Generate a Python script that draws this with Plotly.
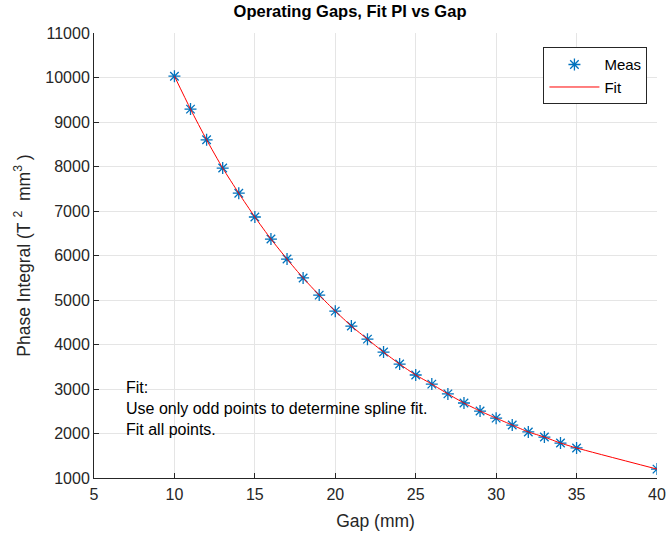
import plotly.graph_objects as go

gap = [10, 11, 12, 13, 14, 15, 16, 17, 18, 19, 20, 21, 22, 23, 24, 25,
       26, 27, 28, 29, 30, 31, 32, 33, 34, 35, 40]
pi_meas = [10030, 9290, 8600, 7965, 7400, 6865, 6370, 5920, 5495, 5110,
           4750, 4415, 4120, 3830, 3560, 3315, 3110, 2890, 2685, 2505,
           2345, 2190, 2035, 1920, 1785, 1675, 1200]
xticks = [5, 10, 15, 20, 25, 30, 35, 40]
yticks = [1000, 2000, 3000, 4000, 5000, 6000, 7000, 8000, 9000, 10000, 11000]

blue = "#0072BD"
font = "Liberation Sans, Arial, sans-serif"
txt = "#262626"

fig = go.Figure()
fig.add_trace(go.Scatter(
    x=gap, y=pi_meas, mode="markers", name="Meas",
    marker=dict(symbol="asterisk-open", size=10, color=blue,
                line=dict(color=blue, width=1.3)),
))
fig.add_trace(go.Scatter(
    x=gap, y=pi_meas, mode="lines", name="Fit",
    line=dict(color="#FF0000", width=1, shape="spline", smoothing=0.6),
))

axis_common = dict(
    showgrid=True, gridcolor="#E5E5E5", gridwidth=1,
    showline=True, linecolor=txt, linewidth=1,
    ticks="inside", ticklen=5, tickcolor=txt,
    tickfont=dict(size=16, color=txt, family=font),
    zeroline=False, mirror=False, automargin=False,
)
fig.update_xaxes(range=[5, 40], tickvals=xticks, ticktext=[str(v) for v in xticks],
                 ticklabelstandoff=2,
                 title=dict(text="Gap (mm)", font=dict(size=17.5, color=txt, family=font), standoff=12),
                 **axis_common)
fig.update_yaxes(range=[1000, 11000], tickvals=yticks, ticktext=[str(v) for v in yticks],
                 title=dict(text="Phase Integral (T&nbsp;<sup>2</sup>&nbsp; mm<sup>3</sup>&nbsp;)",
                            font=dict(size=17.5, color=txt, family=font), standoff=10),
                 **axis_common)

fig.add_annotation(
    x=0.053, y=0.226, xref="paper", yref="paper", xanchor="left", yanchor="top",
    align="left", showarrow=False,
    text="Fit:<br>Use only odd points to determine spline fit.<br>Fit all points.",
    font=dict(size=16, color="#000000", family=font),
)

fig.update_layout(
    width=668, height=538,
    margin=dict(l=94, r=11, t=33, b=60),
    paper_bgcolor="white", plot_bgcolor="white",
    title=dict(text="<b>Operating Gaps, Fit PI vs Gap</b>", x=0.524, xanchor="center",
               y=0.99, yanchor="top",
               font=dict(size=16.5, color="#000000", family=font)),
    legend=dict(x=0.983, y=0.968, xanchor="right", yanchor="top",
                bgcolor="white", bordercolor=txt, borderwidth=1,
                font=dict(size=15, color="#000000", family=font),
                itemwidth=50, tracegroupgap=0),
    showlegend=True,
)

fig.write_html("out.html")
